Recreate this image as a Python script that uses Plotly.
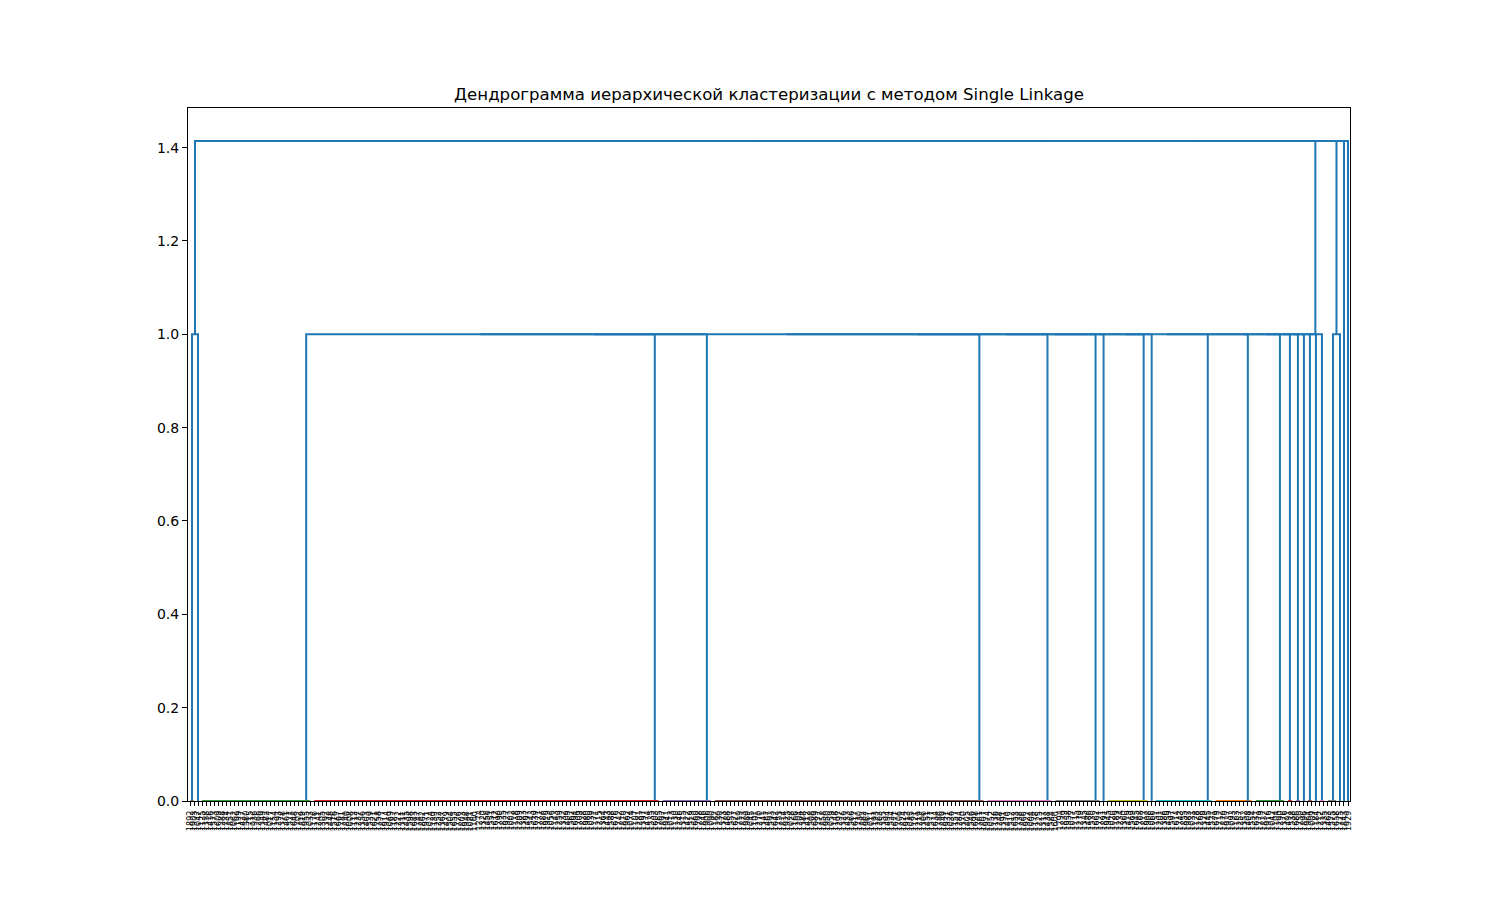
import plotly.graph_objects as go

title = "Дендрограмма иерархической кластеризации с методом Single Linkage"

leaf_labels = """
1892 1903 1047 1125 1338 1416 1573 1609 1288 1734 1851 1062 1199 1427 1580 1715 1936 1266 1349 1482
1017 1154 1293 1378 1461 1527 1648 1702 1819 1955 1033 1176 1241 1305 1392 1448 1516 1667 1781 1840
1008 1112 1237 1356 1403 1539 1621 1758 1877 1914 1069 1187 1222 1311 1435 1598 1683 1747 1862 1971
1024 1139 1252 1367 1479 1504 1655 1726 1803 1948 1081 1160 1274 1320 1456 1551 1612 1790 1835 1927
1002 1118 1209 1383 1497 1543 1639 1771 1886 1919 1056 1143 1259 1332 1409 1562 1694 1709 1828 1980
1039 1171 1215 1364 1443 1588 1676 1742 1810 1962 1074 1107 1281 1397 1474 1535 1603 1765 1897 1941
1013 1130 1246 1315 1422 1519 1660 1798 1846 1906 1090 1182 1230 1373 1488 1557 1627 1719 1873 1989
1045 1101 1270 1341 1467 1593 1642 1753 1814 1925 1028 1166 1204 1388 1412 1508 1689 1777 1858 1950
1059 1148 1297 1326 1433 1566 1617 1730 1882 1967 1011 1193 1263 1355 1494 1524 1671 1706 1824 1913
1085 1121 1219 1306 1451 1577 1634 1786 1849 1931 1036 1157 1284 1370 1405 1546 1698 1761 1807 1974
1052 1136 1248 1391 1470 1512 1653 1738 1866 1922 1004 1178 1225 1317 1438 1584 1606 1794 1839 1958
1077 1115 1279 1345 1486 1530 1662 1721 1891 1945 1020 1189 1234 1360 1419 1569 1645 1768 1817 1908
1066 1151 1201 1386 1459 1597 1614 1743 1855 1983 1031 1128 1268 1329 1445 1521 1679 1712 1870 1937
1093 1163 1257 1352 1408 1554 1631 1779 1832 1916 1042 1104 1290 1376 1491 1538 1686 1750 1896 1964
1009 1184 1212 1335 1463 1575 1658 1725 1843 1929
""".split()

# merge heights (single linkage)
h_group = 0.0
h_mid = 1.0
h_top = 1.4142135623730951

# sizes of groups of identical points (1 = single point), in leaf order, per branch
left_branch = [2, 1]
mid_branch = [28, 87, 13, 68, 17, 12, 1, 11, 1, 15, 10, 8, 2, 2, 1, 2, 1, 2]
right_branch = [3, 1]
tail_points = [1, 1]

palette = ["#ff7f0e", "#2ca02c", "#d62728", "#9467bd", "#8c564b",
           "#e377c2", "#7f7f7f", "#bcbd22", "#17becf"]
above_color = "#1f77b4"

n_leaves = len(leaf_labels)
segs = {}


def leaf_x(i):
    return 10 * i + 5


def add_link(a, b, h, color):
    xs, ys = segs.setdefault(color, ([], []))
    xs += [a[0], a[0], b[0], b[0], None]
    ys += [a[1], h, h, b[1], None]
    return ((a[0] + b[0]) / 2.0, h)


def chain(nodes, h, color):
    node = nodes[0]
    for nxt in nodes[1:]:
        node = add_link(node, nxt, h, color)
    return node


state = {"pos": 0, "c": 0}


def build_branch(sizes):
    nodes = []
    for n in sizes:
        leaves = [(leaf_x(state["pos"] + k), 0.0) for k in range(n)]
        state["pos"] += n
        if n > 1:
            col = palette[state["c"] % len(palette)]
            state["c"] += 1
            nodes.append(chain(leaves, h_group, col))
        else:
            nodes.append(leaves[0])
    return nodes


left_node = chain(build_branch(left_branch), h_mid, above_color)
mid_node = chain(build_branch(mid_branch), h_mid, above_color)
right_node = chain(build_branch(right_branch), h_mid, above_color)
tails = build_branch(tail_points)
chain([left_node, mid_node, right_node] + tails, h_top, above_color)

fig = go.Figure()
for color, (xs, ys) in segs.items():
    fig.add_trace(go.Scatter(x=xs, y=ys, mode="lines",
                             line=dict(color=color, width=2),
                             hoverinfo="skip", showlegend=False))

# leaf labels, rotated, one per leaf (drawn as annotations so none is dropped)
for i, lab in enumerate(leaf_labels):
    fig.add_annotation(x=leaf_x(i), xref="x", y=0, yref="y",
                       text=lab, showarrow=False, textangle=-90,
                       xanchor="center", yanchor="top", yshift=-9,
                       font=dict(size=8, color="black"),
                       borderpad=0)

ytick_vals = [0.0, 0.2, 0.4, 0.6, 0.8, 1.0, 1.2, 1.4]

fig.update_layout(
    width=1500, height=900,
    margin=dict(l=188, r=150, t=108, b=99),
    paper_bgcolor="white", plot_bgcolor="white",
    font=dict(family="DejaVu Sans", color="black"),
    title=dict(text=title, x=0.5, xref="paper", xanchor="center",
               y=1 - 94 / 900, yref="container", yanchor="middle",
               font=dict(size=16.6, color="black")),
    xaxis=dict(range=[0, 10 * n_leaves], tickmode="array",
               tickvals=[leaf_x(i) for i in range(n_leaves)],
               showticklabels=False, ticks="outside", ticklen=4,
               tickwidth=0.8, tickcolor="black",
               showline=True, linecolor="black", linewidth=1, mirror=True,
               showgrid=False, zeroline=False),
    yaxis=dict(range=[0, 1.05 * h_top], tickmode="array",
               tickvals=ytick_vals, ticktext=[f"{v:.1f}" for v in ytick_vals],
               tickfont=dict(size=14), ticks="outside", ticklen=5,
               tickcolor="black",
               showline=True, linecolor="black", linewidth=1, mirror=True,
               showgrid=False, zeroline=False),
)

fig.write_html("out.html")
